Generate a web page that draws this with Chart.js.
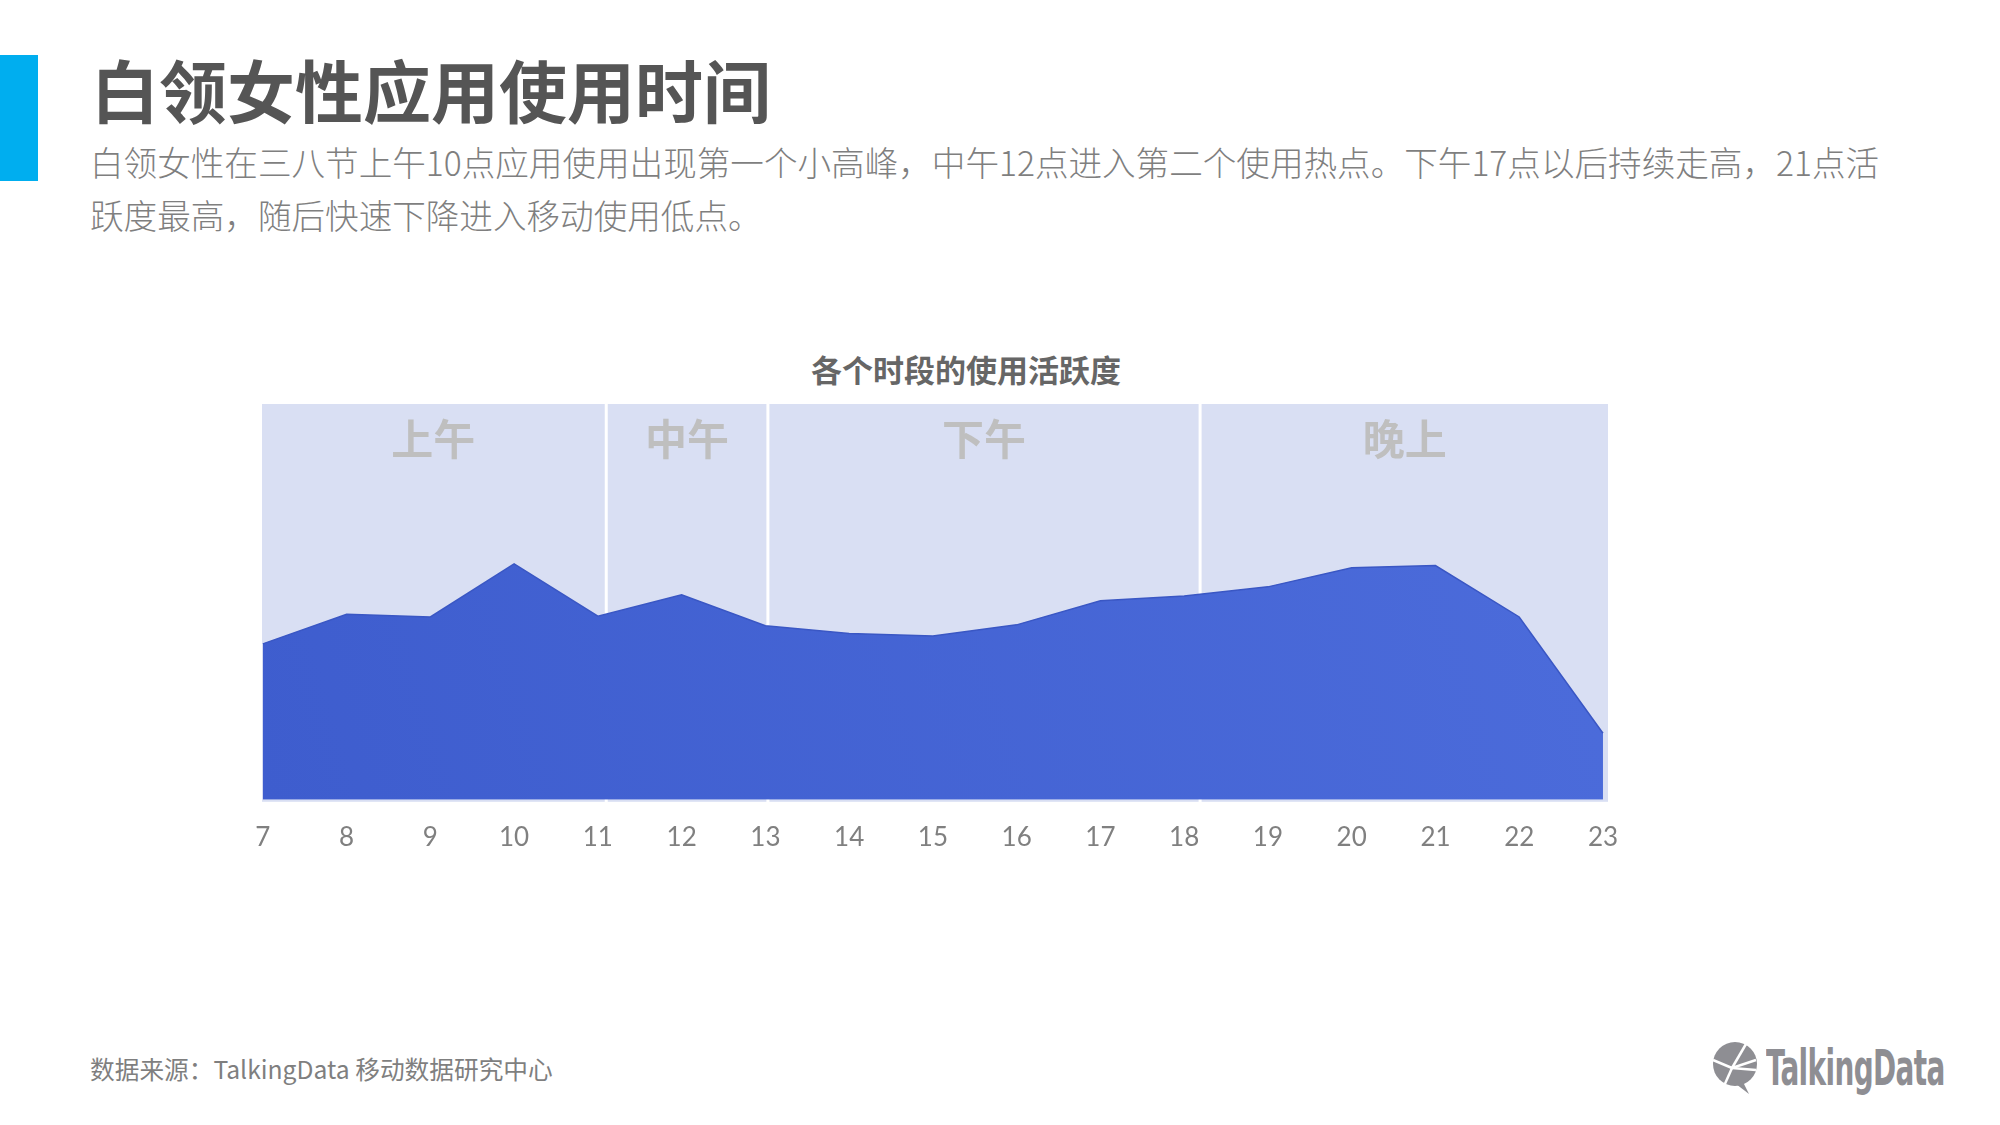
<!DOCTYPE html>
<html>
<head>
<meta charset="utf-8">
<script src="https://cdn.jsdelivr.net/npm/chart.js@4.4.1/dist/chart.umd.min.js"></script>
<style>
  html, body { margin: 0; padding: 0; background: #fff; }
  body { width: 2000px; height: 1125px; position: relative; overflow: hidden; font-family: "Noto Sans CJK SC", "Noto Sans", sans-serif; }
  .bar { position: absolute; left: 0; top: 55px; width: 38px; height: 126px; background: #00aeef; }
  .title { position: absolute; left: 91px; top: 55px; font-size: 68px; line-height: 68px; font-weight: 700; color: #555; white-space: nowrap; }
  .desc { position: absolute; left: 90px; top: 135px; font-size: 33.6px; line-height: 53px; color: #7f7f7f; font-weight: 300; white-space: nowrap; }
  .chart-title { position: absolute; left: 766px; width: 400px; top: 351px; text-align: center; font-size: 31px; line-height: 36px; font-weight: 700; color: #666; }
  .source { position: absolute; left: 90px; top: 1053px; font-size: 24.7px; line-height: 30px; color: #7f7f7f; white-space: nowrap; }
  .logo { position: absolute; left: 1712px; top: 1042px; width: 260px; height: 60px; }
  .logo span { position: absolute; left: 54px; top: -4px; font-family: "DejaVu Sans", sans-serif; font-stretch: condensed; font-weight: 700; font-size: 50px; line-height: 60px; color: #8e8e93; transform: scaleX(0.62); transform-origin: left center; letter-spacing: -1px; }
  #chart { position: absolute; left: 0; top: 0; }
</style>
</head>
<body>
<div class="bar"></div>
<div class="title">白领女性应用使用时间</div>
<div class="desc">白领女性在三八节上午10点应用使用出现第一个小高峰，中午12点进入第二个使用热点。下午17点以后持续走高，21点活<br>跃度最高，随后快速下降进入移动使用低点。</div>
<div class="chart-title">各个时段的使用活跃度</div>
<div class="source">数据来源：TalkingData 移动数据研究中心</div>
<div class="logo">
  <svg width="54" height="60" viewBox="0 0 54 60">
    <circle cx="23" cy="22" r="22" fill="#8e8e93"/>
    <path d="M30 38 L37 52 L24 42 Z" fill="#8e8e93"/>
    <g stroke="#fff" stroke-width="2.5">
      <line x1="20" y1="26" x2="34" y2="2"/>
      <line x1="20" y1="26" x2="44" y2="18"/>
      <line x1="20" y1="26" x2="1" y2="18"/>
      <line x1="20" y1="26" x2="12" y2="44"/>
      <line x1="20" y1="26" x2="44" y2="28"/>
    </g>
  </svg>
  <span>TalkingData</span>
</div>
<canvas id="chart" width="2000" height="1125"></canvas>
<script>
const hours = [7, 8, 9, 10, 11, 12, 13, 14, 15, 16, 17, 18, 19, 20, 21, 22, 23];
const activity = [39.4, 46.9, 46.2, 59.6, 46.4, 51.8, 44.0, 42.0, 41.4, 44.2, 50.3, 51.5, 53.8, 58.6, 59.2, 46.2, 16.8];

const periodNames = ["上午", "中午", "下午", "晚上"];
const periodStarts = [6.99, 11.1, 13.03, 18.19];
const periodEnds = [11.1, 13.03, 18.19, 23.06];

const canvas = document.getElementById("chart");

const periodBands = {
  id: "periodBands",
  beforeDatasetsDraw(chart) {
    const { ctx, chartArea, scales } = chart;
    const x = scales.x;
    ctx.save();
    periodNames.forEach((name, i) => {
      const left = x.getPixelForValue(periodStarts[i]) + (i > 0 ? 1.5 : 0);
      const right = x.getPixelForValue(periodEnds[i]) - (i < periodNames.length - 1 ? 1.5 : 0);
      ctx.fillStyle = "#d9dff3";
      ctx.fillRect(left, chartArea.top, right - left, chartArea.bottom - chartArea.top + 2);
      ctx.fillStyle = "#bfbfbf";
      ctx.font = "bold 42px 'Noto Sans CJK SC'";
      ctx.textAlign = "center";
      ctx.textBaseline = "middle";
      ctx.fillText(name, (left + right) / 2, chartArea.top + 35);
    });
    ctx.restore();
  }
};

function areaFill(context) {
  const area = context.chart.chartArea;
  if (!area) return "#4262d2";
  const g = context.chart.ctx.createLinearGradient(area.left, area.bottom, area.right, area.top);
  g.addColorStop(0, "#3e5dce");
  g.addColorStop(1, "#4c6cdb");
  return g;
}

new Chart(canvas, {
  type: "line",
  data: {
    datasets: [
      {
        label: "活跃度",
        data: hours.map((h, i) => ({ x: h, y: activity[i] })),
        fill: "origin",
        backgroundColor: areaFill,
        borderColor: "#3a57c4",
        borderWidth: 1.5,
        pointRadius: 0,
        tension: 0
      }
    ]
  },
  options: {
    responsive: false,
    animation: false,
    devicePixelRatio: 1,
    layout: { padding: { left: 262, right: 392, top: 404, bottom: 250 } },
    plugins: {
      legend: { display: false },
      title: { display: false },
      tooltip: { enabled: false }
    },
    scales: {
      x: {
        type: "linear",
        min: 6.99,
        max: 23.06,
        border: { display: false },
        grid: { display: false, drawTicks: false },
        afterBuildTicks: (axis) => {
          axis.ticks = hours.map((h) => ({ value: h }));
        },
        ticks: {
          padding: 22,
          color: "#808080",
          font: { family: "Lato", size: 26 },
          maxRotation: 0,
          autoSkip: false,
          callback: (v) => String(v)
        }
      },
      y: {
        display: false,
        min: 0,
        max: 100
      }
    }
  },
  plugins: [periodBands]
});
</script>
</body>
</html>
